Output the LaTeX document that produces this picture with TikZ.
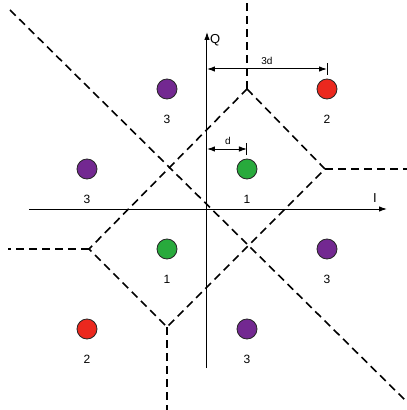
\documentclass[tikz,border=0pt]{standalone}
\usepackage{fontspec}
\setmainfont{Liberation Sans}
\usetikzlibrary{arrows.meta}
\definecolor{cgreen}{RGB}{40,170,60}
\definecolor{cpurple}{RGB}{115,40,145}
\definecolor{cred}{RGB}{235,40,30}
\begin{document}
\begin{tikzpicture}[x=1pt,y=1pt,
  dot/.style={circle,draw=black!85,line width=0.8pt,minimum size=20pt,inner sep=0pt},
  lbl/.style={font=\fontsize{12}{13}\selectfont,inner sep=0pt},
  bnd/.style={line width=1.6pt,dash pattern=on 8pt off 5pt},
  ax/.style={line width=1pt,-{Latex[length=8pt,width=5.5pt]}},
  dim/.style={line width=1pt,{Latex[length=8pt,width=5.5pt]}-{Latex[length=8pt,width=5.5pt]}}]
\useasboundingbox (-207,-201) rectangle (200,209);
% axes
\coordinate (ileft) at (-178,0);
\coordinate (iright) at (180,0);
\coordinate (qbot) at (0,-159);
\coordinate (qtop) at (0,177);
\draw[ax] (ileft) -- (iright);
\draw[ax] (qbot) -- (qtop);
\node[font=\fontsize{13}{14}\selectfont,anchor=west,inner sep=0pt] (qlab) at (3,169) {Q};
\node[font=\fontsize{13}{14}\selectfont,inner sep=0pt] (ilab) at (168,11) {I};
% boundaries
\coordinate (vt) at (40,120);
\coordinate (vr) at (118,40);
\coordinate (vb) at (-40,-118);
\coordinate (vl) at (-118,-40);
\coordinate (et) at (40,209);
\coordinate (er) at (200,40);
\coordinate (eb) at (-40,-201);
\coordinate (el) at (-199,-40);
\coordinate (dtl) at (-197,199);
\coordinate (dbr) at (200,-193);
\draw[bnd] (vt) -- (vr) -- (vb) -- (vl) -- cycle;
\draw[bnd] (vt) -- (et);
\draw[bnd] (vr) -- (er);
\draw[bnd] (vb) -- (eb);
\draw[bnd] (vl) -- (el);
\draw[bnd] (dtl) -- (dbr);
% dots
\node[dot,fill=cgreen] (g1) at (40,40) {};
\node[dot,fill=cgreen] (g2) at (-40,-40) {};
\node[dot,fill=cred] (r1) at (120,120) {};
\node[dot,fill=cred] (r2) at (-120,-120) {};
\node[dot,fill=cpurple] (p1) at (-40,120) {};
\node[dot,fill=cpurple] (p2) at (-120,40) {};
\node[dot,fill=cpurple] (p3) at (120,-40) {};
\node[dot,fill=cpurple] (p4) at (40,-120) {};
\node[lbl] (lg1) at (40,10) {1};
\node[lbl] (lg2) at (-40,-70) {1};
\node[lbl] (lr1) at (120,90) {2};
\node[lbl] (lr2) at (-120,-150) {2};
\node[lbl] (lp1) at (-40,90) {3};
\node[lbl] (lp2) at (-120,10) {3};
\node[lbl] (lp3) at (120,-70) {3};
\node[lbl] (lp4) at (40,-150) {3};
% dimensions
\coordinate (d3a) at (0,140);
\coordinate (d3b) at (120,140);
\draw[dim] (d3a) -- (d3b);
\draw[line width=1pt] (120,134) -- (120,146);
\node[font=\fontsize{10}{11}\selectfont,inner sep=0pt] (l3d) at (60,148) {3d};
\coordinate (d1a) at (0,60);
\coordinate (d1b) at (40,60);
\draw[dim] (d1a) -- (d1b);
\draw[line width=1pt] (40,54) -- (40,66);
\node[font=\fontsize{10}{11}\selectfont,inner sep=0pt] (l1d) at (21,68) {d};
\end{tikzpicture}
\end{document}
